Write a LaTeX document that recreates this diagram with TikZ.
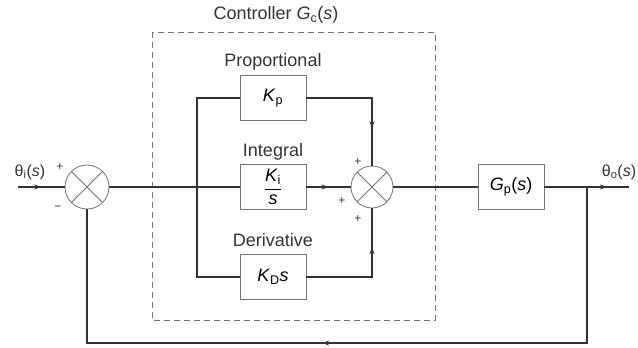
\documentclass[tikz,border=0pt]{standalone}
\usepackage{fontspec}
\setmainfont{Liberation Sans}
\usetikzlibrary{decorations.markings,arrows.meta}
\newcommand\gsub[2]{\textit{#1}\textsubscript{#2}}
\tikzset{
  blk/.style={draw=black!55, line width=0.8pt, minimum width=66pt, minimum height=45pt, inner sep=0pt, font=\fontsize{18}{20}\selectfont},
  sumj/.style={draw=black!55, circle, minimum size=44pt, inner sep=0pt, line width=0.8pt},
  sig/.style={draw=black!80, line width=1.4pt},
  midarrow/.style={postaction={decorate}, decoration={markings, mark=at position #1 with {\arrow{Stealth[length=7pt,width=5pt]}}}},
  lbl/.style={font=\fontsize{18}{20}\selectfont, inner sep=0pt, text=black!80},
  sgn/.style={font=\fontsize{12}{12}\selectfont, inner sep=0pt, text=black!80},
}
\begin{document}
\begin{tikzpicture}[x=1pt,y=-1pt]
\useasboundingbox (0,0) rectangle (638,348);
% dashed controller frame
\draw[black!55, line width=0.8pt, dash pattern=on 6pt off 4pt] (152,32) rectangle (435,320);
\node[lbl] (ctl) at (276,15) {Controller \gsub{G}{c}(\textit{s})};
% summing junctions
\node[sumj] (s1) at (87,187) {};
\draw[black!55, line width=0.8pt] (s1.north west) -- (s1.south east) (s1.north east) -- (s1.south west);
\node[sumj, minimum size=42pt] (s2) at (372,187) {};
\draw[black!55, line width=0.8pt] (s2.north west) -- (s2.south east) (s2.north east) -- (s2.south west);
% blocks
\node[blk] (kp) at (273,98) {\gsub{K}{p}};
\node[blk] (ki) at (273,187) {$\displaystyle\frac{\mbox{\gsub{K}{i}}}{\mbox{\textit{s}}}$};
\node[blk] (kd) at (273,277) {\gsub{K}{D}\textit{s}};
\node[blk] (gp) at (511,187) {\gsub{G}{p}(\textit{s})};
% block labels
\node[lbl] (lp) at (273,62) {Proportional};
\node[lbl] (li) at (273,152) {Integral};
\node[lbl] (ld) at (273,240) {Derivative};
% input / output labels
\node[lbl, font=\fontsize{16}{18}\selectfont] (tin) at (30,172) {θ\textsubscript{i}(\textit{s})};
\node[lbl, font=\fontsize{16}{18}\selectfont] (tout) at (619,172) {θ\textsubscript{o}(\textit{s})};
\coordinate (in) at (18,187);
\coordinate (out) at (629,187);
\coordinate (split) at (197,187);
\coordinate (tap) at (587,187);
% signs
\node[sgn] (p1) at (60,167) {+};
\node[sgn] (m1) at (58,208) {\textminus};
\node[sgn] (p2) at (358,162) {+};
\node[sgn] (p3) at (342,201) {+};
\node[sgn] (p4) at (358,219) {+};
% signals
\draw[sig, midarrow=0.5] (in) -- (s1.west);
\draw[sig] (s1.east) -- (ki.west);
\draw[sig] (kp.west) -| (split) |- (kd.west);
\draw[sig, midarrow=0.72] (kp.east) -| (s2.north);
\draw[sig, midarrow=0.5] (ki.east) -- (s2.west);
\draw[sig, midarrow=0.71] (kd.east) -| (s2.south);
\draw[sig] (s2.east) -- (gp.west);
\draw[sig, midarrow=0.74] (gp.east) -- (out);
\draw[sig, midarrow=0.533] (tap) -- (587,343) -| (s1.south);
\end{tikzpicture}
\end{document}
